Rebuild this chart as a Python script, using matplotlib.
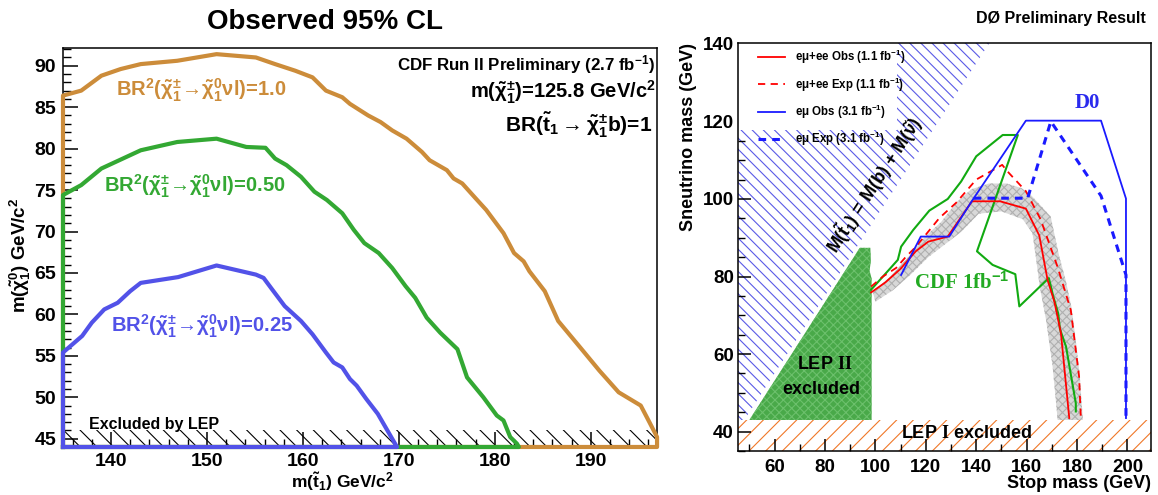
import matplotlib.pyplot as plt
from matplotlib.patches import Polygon, Rectangle
from matplotlib.lines import Line2D
from matplotlib.ticker import MultipleLocator

plt.rcParams.update({
    "font.family": ["Liberation Sans", "DejaVu Sans"],
    "font.weight": "bold",
    "axes.labelweight": "bold",
    "mathtext.fontset": "custom",
    "mathtext.rm": "Liberation Sans:bold",
    "mathtext.it": "Liberation Sans:bold",
    "mathtext.bf": "Liberation Sans:bold",
    "mathtext.sf": "Liberation Serif:bold",
    "mathtext.fallback": "stixsans",
    "hatch.linewidth": 0.8,
    "axes.linewidth": 1.1,
})

# ---------------- left panel data (CDF) ----------------
br100_x = [135, 135, 136.9, 139.0, 141.0, 143.1, 146.9, 151.0, 155.1, 157.1, 159.2, 161.0,
           162.4, 164.1, 164.9, 166.8, 168.1, 169.3, 170.8, 172.4, 173.2, 175.0, 175.7,
           176.6, 178.0, 179.1, 180.9, 182.0, 183.0, 183.6, 185.2, 186.6, 188.9, 190.9,
           192.9, 195.2, 196.1, 196.9, 196.9, 135]
br100_y = [44, 86.4, 87.0, 88.8, 89.6, 90.2, 90.6, 91.4, 91.0, 90.2, 89.4, 88.6,
           87.0, 86.2, 85.4, 84.0, 83.2, 82.2, 81.2, 79.6, 78.6, 77.4, 76.4,
           75.8, 74.0, 72.6, 69.8, 67.4, 66.4, 65.2, 62.8, 59.2, 56.0, 53.2,
           50.6, 49.0, 47.0, 45.2, 44, 44]

br050_x = [135, 135, 136.9, 139.0, 143.1, 146.9, 151.0, 154.1, 156.1, 157.1, 158.3, 159.8,
           161.2, 162.5, 164.1, 165.3, 166.4, 167.9, 169.3, 170.7, 171.7, 172.9, 174.3,
           176.1, 177.1, 178.8, 180.2, 180.9, 181.6, 182.3, 182.5, 135]
br050_y = [44, 74.4, 75.6, 77.6, 79.8, 80.8, 81.2, 80.2, 80.1, 78.8, 78.0, 76.6,
           74.8, 73.8, 72.2, 70.2, 68.6, 67.4, 65.6, 63.4, 62.0, 59.6, 57.8,
           55.8, 52.4, 50.0, 47.8, 47.2, 45.2, 44.4, 44, 44]

br025_x = [135, 135, 137.0, 138.0, 139.3, 140.7, 142.0, 143.1, 147.0, 151.0, 155.1, 155.9,
           156.8, 158.1, 159.8, 161.0, 162.4, 163.2, 164.1, 164.9, 165.6, 166.6, 167.8,
           168.6, 169.7, 169.8, 135]
br025_y = [44, 55.4, 57.4, 59.0, 60.6, 61.4, 62.8, 63.8, 64.5, 65.9, 64.8, 64.4,
           63.0, 61.0, 59.2, 57.6, 55.4, 54.2, 53.6, 52.2, 51.4, 49.8, 48.0,
           46.4, 44.2, 44, 44]

lep_band = [44, 46.1]

# ---------------- right panel data (D0) ----------------
kin_x = [48, 145.3]          # M(stop) = M(b) + M(sneutrino) boundary
kin_y = [43, 140.3]

lep2_x = [50, 98.5, 98.5, 97.7, 98.2, 98.0, 93.8]
lep2_y = [43, 43, 79.5, 81.5, 84.0, 87.4, 87.4]

lep1_top = 43

band_x = [99, 106, 113, 120, 126, 132, 138, 145, 152, 158, 162, 166, 169.5, 171, 173, 175.5,
          177.8, 179.2, 181, 182.3,
          172.3, 170.3, 167.7, 165.2, 163.8, 162.3, 158.4, 150, 141, 134, 128, 121, 114,
          107, 100]
band_y = [76, 80, 85, 90.5, 94, 99, 102.5, 104, 104, 102.8, 100.8, 98, 95.5, 91, 85, 79,
          72, 65, 55, 43,
          43, 56.8, 68.8, 77.4, 84.3, 91.2, 94.8, 96.8, 96.2, 91.5, 88.5, 85, 80.5,
          76.5, 73.5]

red_obs_x = [98.3, 104, 110, 116, 121, 128.7, 138.3, 149.5, 159.7, 165, 168.3, 171, 173.6, 176.9]
red_obs_y = [75.9, 78.5, 82, 86.5, 89, 90.3, 99.4, 99.4, 97.5, 90.6, 79.1, 73.5, 65.4, 43.5]

red_exp_x = [98.3, 103, 108.2, 112, 116.1, 125.4, 132, 140, 150.3, 152.4, 159.7, 165.5,
             172.2, 177.5, 180.8, 181.5]
red_exp_y = [77.4, 80, 82.2, 85, 87.7, 95.1, 99, 105, 108.8, 107.1, 102, 94.8,
             82.6, 71.4, 54.2, 43.2]

blue_obs_x = [110.2, 118, 129.3, 138.2, 159.7, 189.5, 199.4, 199.4]
blue_obs_y = [80.4, 90.3, 90.3, 99.4, 120.2, 120.2, 100.1, 43.5]

blue_exp_x = [139, 160.4, 169.6, 189.5, 199.4, 199.4]
blue_exp_y = [100.2, 100.2, 120, 100.8, 80.4, 43.5]

cdf_x = [98.3, 103, 108.9, 110.2, 115, 121.4, 128.7, 134, 140, 150.5, 156.5, 140.3, 146.5,
         155.5, 157.1, 168.8, 170.5, 172.5, 173.2, 174.9, 175.6, 179.5, 179.5]
cdf_y = [76.6, 80, 84.3, 87.7, 92, 97, 100, 104.5, 111, 116.5, 116.5, 86.5, 83.0,
         80.6, 72.3, 79.6, 75, 70.5, 66.5, 63.2, 62, 47.3, 45.2]

legend_labels = [r"e$\mu$+ee Obs (1.1 fb$^{-1}$)", r"e$\mu$+ee Exp (1.1 fb$^{-1}$)",
                 r"e$\mu$ Obs (3.1 fb$^{-1}$)", r"e$\mu$ Exp (3.1 fb$^{-1}$)"]

c_brown = "#cc8c3a"
c_green = "#33a833"
c_blue = "#5252e8"

fig = plt.figure(figsize=(11.58, 4.95), dpi=100)

# ================= left =================
ax = fig.add_axes([0.0544, 0.097, 0.513, 0.807])
ax.set_xlim(135, 196.9)
ax.set_ylim(44, 92.2)

ax.fill_between([135, 196.9], lep_band[0], lep_band[1], facecolor="white",
                edgecolor="black", hatch="\\\\", linewidth=0, zorder=1)

for xs, ys, c in [(br100_x, br100_y, c_brown), (br050_x, br050_y, c_green), (br025_x, br025_y, c_blue)]:
    ax.plot(xs, ys, color=c, lw=3, solid_joinstyle="round", clip_on=False, zorder=3)

ax.text(137.7, 46.7, "Excluded by LEP", fontsize=11.5, va="center", ha="left", zorder=4)

lbl = r"BR$^2$($\tilde{\chi}_1^{\pm}\!\rightarrow\!\tilde{\chi}_1^0\nu$l)="
ax.text(140.5, 87.0, lbl + "1.0", color=c_brown, fontsize=14.5, va="center")
ax.text(139.3, 75.4, lbl + "0.50", color=c_green, fontsize=14.5, va="center")
ax.text(140.0, 58.6, lbl + "0.25", color=c_blue, fontsize=14.5, va="center")

ax.text(0.997, 0.957, r"CDF Run II Preliminary (2.7 fb$^{-1}$)", transform=ax.transAxes,
        ha="right", va="center", fontsize=12.2)
ax.text(0.997, 0.889, r"m($\tilde{\chi}_1^{\pm}$)=125.8 GeV/c$^2$", transform=ax.transAxes,
        ha="right", va="center", fontsize=14.5)
ax.text(0.992, 0.806, r"BR($\tilde{t}_1\rightarrow\tilde{\chi}_1^{\pm}$b)=1", transform=ax.transAxes,
        ha="right", va="center", fontsize=15)

ax.xaxis.set_major_locator(MultipleLocator(10))
ax.xaxis.set_minor_locator(MultipleLocator(2))
ax.yaxis.set_major_locator(MultipleLocator(5))
ax.yaxis.set_minor_locator(MultipleLocator(1))
ax.tick_params(which="both", direction="in", top=False, right=False, labelsize=14)
ax.tick_params(which="major", length=11, width=1.1, pad=5)
ax.tick_params(which="minor", length=6, width=1.0)
ax.tick_params(axis="x", pad=4)

ax.set_xlabel(r"m($\tilde{t}_1$) GeV/c$^2$", fontsize=12.5, fontweight="bold")
ax.xaxis.set_label_coords(0.47, -0.058)
ax.set_ylabel(r"m($\tilde{\chi}_1^0$) GeV/c$^2$", fontsize=13.5, fontweight="bold")
ax.yaxis.label.set_va("center")
ax.yaxis.set_label_coords(-0.071, 0.48)

fig.text(0.281, 0.955, "Observed 95% CL", ha="center", va="center", fontsize=20)

# ================= right =================
ax2 = fig.add_axes([0.6373, 0.0889, 0.3566, 0.8248])
x0, x1, y0, y1 = 45.5, 209.3, 35, 140.3
ax2.set_xlim(x0, x1)
ax2.set_ylim(y0, y1)

ax2.fill_between([x0, x1], y0, lep1_top, facecolor="white", edgecolor="#f07828",
                 hatch="//", linewidth=0, zorder=1)
kin = Polygon([(x0, kin_y[0]), (kin_x[0], kin_y[0]), (kin_x[1], kin_y[1]), (x0, kin_y[1])],
              closed=True, facecolor="white", edgecolor="#5a5ae6", hatch="\\\\\\", linewidth=0, zorder=1)
ax2.add_patch(kin)
ax2.add_patch(Rectangle((0, 0.786), 0.386, 0.214, transform=ax2.transAxes,
                        facecolor="white", edgecolor="none", zorder=2))
ax2.add_patch(Polygon(list(zip(lep2_x, lep2_y)), closed=True, facecolor="#49a949",
                      edgecolor="#6cc06c", hatch="xxxx", linewidth=0, zorder=2))
ax2.add_patch(Polygon(list(zip(band_x, band_y)), closed=True, facecolor="#d8d8d8",
                      edgecolor="#b0b0b0", hatch="xxxx", linewidth=0, zorder=2))

ax2.plot(cdf_x, cdf_y, color="#11aa11", lw=1.5, zorder=3)
ax2.plot(red_obs_x, red_obs_y, color="red", lw=1.3, zorder=4)
ax2.plot(red_exp_x, red_exp_y, color="red", lw=1.3, ls=(0, (4, 3)), zorder=4)
ax2.plot(blue_obs_x, blue_obs_y, color="#1a1aff", lw=1.3, zorder=4)
ax2.plot(blue_exp_x, blue_exp_y, color="#1a1aff", lw=2.2, ls=(0, (2.5, 2)), zorder=4)

handles = [Line2D([], [], color="red", lw=1.3),
           Line2D([], [], color="red", lw=1.3, ls=(0, (4, 3))),
           Line2D([], [], color="#1a1aff", lw=1.3),
           Line2D([], [], color="#1a1aff", lw=2.2, ls=(0, (2.5, 2)))]
leg = ax2.legend(handles, legend_labels, loc="upper left", bbox_to_anchor=(0.02, 1.015),
                 frameon=False, fontsize=8.3, handlelength=2.4, labelspacing=0.78,
                 handletextpad=0.8, borderpad=0.5)
leg.set_zorder(6)

ax2.text(99.6, 103.6, r"M($\tilde{t}_1$) = M(b) + M($\tilde{\nu}$)", rotation=45,
         transform_rotates_text=True, rotation_mode="anchor", ha="center", va="center",
         fontsize=13, zorder=5)
ax2.text(184.2, 124.7, "D0", color="#2a2aee", family="Liberation Serif", fontsize=15,
         ha="center", va="center", zorder=5)
ax2.text(134.3, 78.3, r"CDF 1fb$^{-1}$", color="#22aa22", family="Liberation Serif",
         fontsize=15, ha="center", va="center", zorder=5)
ax2.text(79.8, 57.2, r"LEP $\mathsf{II}$", fontsize=13, ha="center", va="center", zorder=5)
ax2.text(78.5, 50.8, "excluded", fontsize=13, ha="center", va="center", zorder=5)
ax2.text(136, 39.6, r"LEP $\mathsf{I}$ excluded", fontsize=13, ha="center", va="center", zorder=5)

ax2.xaxis.set_major_locator(MultipleLocator(20))
ax2.xaxis.set_minor_locator(MultipleLocator(10))
ax2.yaxis.set_major_locator(MultipleLocator(20))
ax2.yaxis.set_minor_locator(MultipleLocator(5))
ax2.tick_params(which="both", direction="in", top=False, right=False, labelsize=13.5)
ax2.tick_params(which="major", length=9, width=1.1, pad=3)
ax2.tick_params(which="minor", length=5, width=1.0)
ax2.tick_params(axis="x", pad=6)

ax2.set_xlabel("Stop mass (GeV)", fontsize=13, fontweight="bold", loc="right")
ax2.xaxis.set_label_coords(1.0, -0.058)
ax2.set_ylabel("Sneutrino mass (GeV)", fontsize=13, fontweight="bold", loc="top")
ax2.yaxis.set_label_coords(-0.1, 1.0)

fig.text(0.989, 0.963, "D\u00d8 Preliminary Result", ha="right", va="center", fontsize=11.5)

fig.savefig("out.png", dpi=100)
